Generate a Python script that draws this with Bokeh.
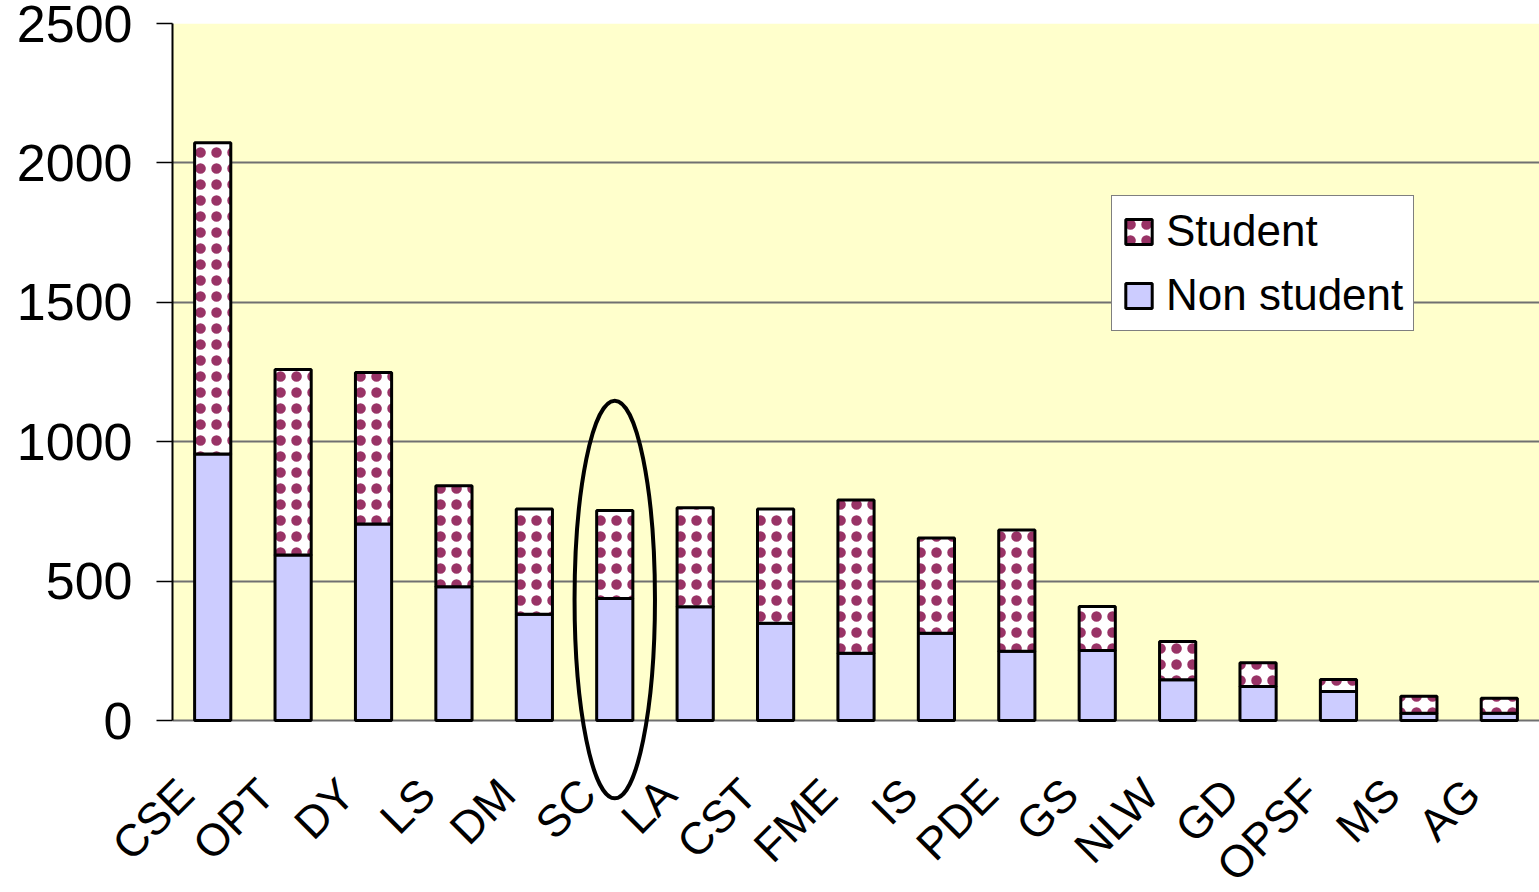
import math
from bokeh.plotting import figure
from bokeh.models import (FactorRange, Range1d, FixedTicker, BoxAnnotation,
                          Legend, LegendItem, ColumnDataSource)
from bokeh.core.properties import value
from bokeh.embed import file_html
from bokeh.resources import INLINE

# ---- data ----
categories = ["CSE", "OPT", "DY", "LS", "DM", "SC", "LA", "CST", "FME",
              "IS", "PDE", "GS", "NLW", "GD", "OPSF", "MS", "AG"]
non_student = [956, 594, 705, 480, 381, 438, 408, 349, 241,
               313, 248, 251, 146, 122, 104, 26, 26]
student = [1116, 665, 543, 362, 378, 315, 355, 410, 550,
           342, 435, 158, 137, 85, 43, 61, 54]
y_ticks = [0, 500, 1000, 1500, 2000, 2500]
highlight = "SC"

totals = [a + b for a, b in zip(non_student, student)]

# ---- layout ----
FRAME_W, FRAME_H = 1367, 868
ZERO_PX = 697          # pixels from frame top down to y = 0
Y_MAX = 2500
y_min = -Y_MAX * (FRAME_H - ZERO_PX) / ZERO_PX

FONT = value("Liberation Sans")
PLUM = "#993366"

src = ColumnDataSource(dict(
    cat=categories,
    non=non_student,
    total=totals,
    base=[0] * len(categories),
))

p = figure(x_range=FactorRange(factors=categories, range_padding=0),
           y_range=Range1d(y_min, Y_MAX),
           frame_width=FRAME_W, frame_height=FRAME_H,
           min_border_left=172, min_border_top=23,
           min_border_right=0, min_border_bottom=0,
           output_backend="svg", toolbar_location=None,
           background_fill_color="white", border_fill_color="white",
           outline_line_color=None)

# yellow plot area (0..2500 only)
p.add_layout(BoxAnnotation(bottom=0, top=Y_MAX, fill_color="#FFFFCC",
                           fill_alpha=1.0, line_color=None, level="image"))

r_non = p.vbar(x="cat", bottom="base", top="non", width=0.45, source=src,
               fill_color="#CCCCFF", line_color="black", line_width=3)
r_st = p.vbar(x="cat", bottom="non", top="total", width=0.45, source=src,
              fill_color="white", hatch_pattern="dot", hatch_color=PLUM,
              hatch_scale=16, hatch_weight=3,
              line_color=None)
# second hatch layer enlarges the dots into solid blobs
r_st2 = p.vbar(x="cat", bottom="non", top="total", width=0.45, source=src,
               fill_alpha=0, hatch_pattern="ring", hatch_color=PLUM,
               hatch_scale=16, hatch_weight=2.5,
               line_color="black", line_width=3)

# category labels, rotated; drawn on the overlay level so they are not clipped
p.text(x="cat", y="base", text="cat", source=src, angle=math.pi / 4,
       text_align="right", text_baseline="middle",
       x_offset=-27, y_offset=66,
       text_font=FONT, text_font_size="45px", text_color="black",
       level="overlay")

# highlight ellipse round SC
p.ellipse(x=[highlight], y=[434], width=1.0, height=1428,
          fill_color=None, line_color="black", line_width=4,
          level="overlay")

# axes
p.xaxis.visible = False
p.xgrid.visible = False
ya = p.yaxis[0]
ya.ticker = FixedTicker(ticks=y_ticks)
ya.bounds = (0, Y_MAX)
ya.axis_line_color = "black"
ya.axis_line_width = 2
ya.major_tick_line_color = "black"
ya.major_tick_line_width = 1.5
ya.major_tick_out = 16
ya.major_tick_in = 0
ya.minor_tick_out = 0
ya.minor_tick_in = 0
ya.major_label_standoff = 24
ya.major_label_text_font = "Liberation Sans"
ya.major_label_text_font_size = "52px"
ya.major_label_text_color = "black"

p.ygrid.ticker = FixedTicker(ticks=y_ticks)
p.ygrid.grid_line_color = "#707070"
p.ygrid.grid_line_width = 2

legend = Legend(items=[LegendItem(label="Student", renderers=[r_st, r_st2]),
                       LegendItem(label="Non student", renderers=[r_non])],
                location=(939, 560), orientation="vertical",
                label_text_font="Liberation Sans", label_text_font_size="44px",
                label_text_color="black",
                glyph_width=33, glyph_height=31, label_standoff=11,
                padding=10, spacing=14, margin=0,
                border_line_color="black", border_line_width=1,
                background_fill_color="white", background_fill_alpha=1.0)
p.add_layout(legend)

open("out.html", "w").write(file_html(p, INLINE))
